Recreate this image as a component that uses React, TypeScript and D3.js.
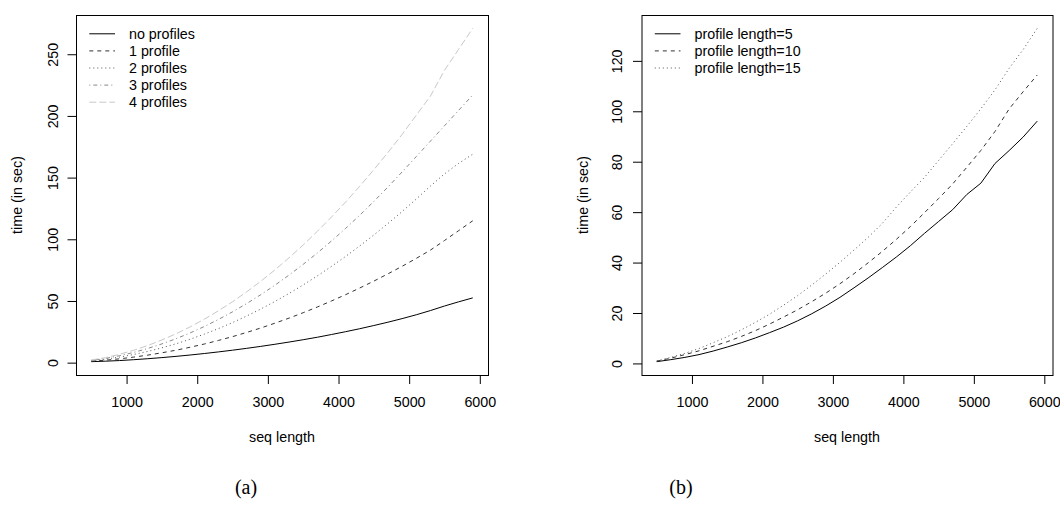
import React, { useEffect, useRef } from "react";
import * as d3 from "d3";

const seqLength = [
  500, 700, 900, 1100, 1300, 1500, 1700, 1900, 2100, 2300, 2500, 2700, 2900, 3100,
  3300, 3500, 3700, 3900, 4100, 4300, 4500, 4700, 4900, 5100, 5300, 5500, 5700, 5900,
];

// panel (a): number of profiles
const noProfiles = [
  0.8, 1.2, 1.7, 2.4, 3.2, 4.1, 5.1, 6.2, 7.4, 8.7, 10.1, 11.6, 13.2, 14.9,
  16.7, 18.6, 20.6, 22.8, 25.1, 27.5, 30.1, 32.8, 35.7, 38.8, 42.2, 45.9, 49.3, 52.5,
];
const oneProfile = [
  1.2, 2.0, 3.1, 4.5, 6.1, 8.0, 10.1, 12.5, 15.1, 18.0, 21.1, 24.5, 28.1, 32.0,
  36.1, 40.5, 45.1, 50.0, 55.1, 60.5, 66.1, 72.0, 78.1, 84.5, 91.2, 99.0, 107.0, 115.0,
];
const twoProfiles = [
  1.5, 2.8, 4.5, 6.6, 9.1, 12.0, 15.3, 19.0, 23.1, 27.6, 32.5, 37.8, 43.5, 49.6,
  56.1, 63.0, 70.3, 78.0, 86.1, 94.6, 103.5, 112.8, 122.5, 132.6, 143.1, 153.0, 161.5, 169.0,
];
const threeProfiles = [
  1.8, 3.4, 5.6, 8.3, 11.5, 15.2, 19.4, 24.1, 29.3, 35.0, 41.2, 47.9, 55.1, 62.8,
  71.0, 79.7, 88.9, 98.6, 108.8, 119.5, 130.7, 142.4, 154.6, 167.0, 179.5, 192.0, 204.5, 217.0,
];
const fourProfiles = [
  2.2, 4.0, 6.8, 10.0, 13.9, 18.4, 23.4, 29.0, 35.2, 42.0, 49.4, 57.4, 66.0, 75.2,
  85.0, 95.4, 106.4, 118.0, 130.2, 143.0, 156.4, 170.4, 185.0, 200.5, 216.0, 237.0, 254.0, 271.0,
];

// panel (b): profile length
const lenFive = [
  0.7, 1.5, 2.4, 3.5, 4.9, 6.5, 8.2, 10.1, 12.2, 14.4, 16.9, 19.7, 22.8, 26.2,
  30.0, 33.9, 38.0, 42.2, 46.7, 51.6, 56.3, 61.0, 67.0, 71.5, 79.3, 84.4, 89.8, 96.1,
];
const lenTen = [
  0.9, 2.1, 3.5, 5.0, 6.8, 8.6, 10.7, 13.0, 15.6, 18.4, 21.3, 24.5, 27.9, 31.6,
  35.6, 39.9, 44.4, 49.2, 54.3, 59.8, 65.4, 71.2, 77.8, 84.5, 92.0, 100.9, 107.8, 114.4,
];
const lenFifteen = [
  1.0, 2.4, 4.0, 5.9, 8.2, 10.6, 13.3, 16.3, 19.5, 23.1, 26.9, 31.1, 35.5, 40.1,
  45.0, 50.0, 55.5, 62.0, 68.0, 73.8, 80.5, 87.2, 94.0, 101.0, 108.5, 117.0, 124.5, 132.9,
];

const labelsA = ["no profiles", "1 profile", "2 profiles", "3 profiles", "4 profiles"];
const labelsB = ["profile length=5", "profile length=10", "profile length=15"];
const xTicks = [1000, 2000, 3000, 4000, 5000, 6000];
const yTicksA = [0, 50, 100, 150, 200, 250];
const yTicksB = [0, 20, 40, 60, 80, 100, 120];

// R lty 1..5
const lineStyles = [
  { color: "#000", dash: null },
  { color: "#333", dash: "4,4" },
  { color: "#555", dash: "1,3" },
  { color: "#888", dash: "1,3,4,3" },
  { color: "#c8c8c8", dash: "7,3" },
];

const W = 1060;
const H = 505;
const TOP = 15;
const BOTTOM = 375;
const FONT = "'Liberation Sans', Arial, Helvetica, sans-serif";
const FS = 14.3;

// R style axis range: data range extended by 4% each side
const pad = (ext) => {
  const r = ext[1] - ext[0];
  return [ext[0] - 0.04 * r, ext[1] + 0.04 * r];
};

function drawPanel(svg, p) {
  const x = d3.scaleLinear().domain(pad(d3.extent(seqLength))).range([p.left, p.right]);
  const allY = p.series.flatMap((s) => s);
  const y = d3.scaleLinear().domain(pad(d3.extent(allY))).range([BOTTOM, TOP]);

  const g = svg.append("g");

  const line = d3
    .line()
    .x((d, i) => x(seqLength[i]))
    .y((d) => y(d));

  p.series.forEach((s, i) => {
    g.append("path")
      .datum(s)
      .attr("fill", "none")
      .attr("stroke", lineStyles[i].color)
      .attr("stroke-width", 1)
      .attr("stroke-dasharray", lineStyles[i].dash)
      .attr("d", line);
  });

  // box
  g.append("rect")
    .attr("x", p.left + 0.5)
    .attr("y", TOP + 0.5)
    .attr("width", p.right - p.left)
    .attr("height", BOTTOM - TOP)
    .attr("fill", "none")
    .attr("stroke", "#000");

  // x axis
  const xa = g
    .append("g")
    .attr("transform", `translate(0,${BOTTOM + 0.5})`)
    .call(d3.axisBottom(x).tickValues(xTicks).tickSize(8.5).tickPadding(12.5).tickFormat(d3.format("d")));
  xa.select(".domain").remove();
  xa.selectAll("line").attr("stroke", "#000");
  xa.selectAll("text")
    .attr("fill", "#000")
    .style("font-family", FONT)
    .style("font-size", `${FS}px`);

  // y axis, labels parallel to the axis
  const ya = g
    .append("g")
    .attr("transform", `translate(${p.left + 0.5},0)`)
    .call(d3.axisLeft(y).tickValues(p.yTicks).tickSize(9));
  ya.select(".domain").remove();
  ya.selectAll("line").attr("stroke", "#000");
  ya.selectAll("text")
    .attr("x", null)
    .attr("dy", null)
    .attr("text-anchor", "middle")
    .attr("transform", `translate(${-p.yLabelOffset},0) rotate(-90)`)
    .attr("fill", "#000")
    .style("font-family", FONT)
    .style("font-size", `${FS}px`);

  g.append("text")
    .attr("x", (p.left + p.right) / 2)
    .attr("y", 442)
    .attr("text-anchor", "middle")
    .style("font-family", FONT)
    .style("font-size", `${FS}px`)
    .text("seq length");

  g.append("text")
    .attr("transform", `translate(${p.left - 54},${(TOP + BOTTOM) / 2}) rotate(-90)`)
    .attr("text-anchor", "middle")
    .style("font-family", FONT)
    .style("font-size", `${FS}px`)
    .text("time (in sec)");

  // legend
  const lg = g.append("g").attr("transform", `translate(${p.left},33.3)`);
  p.labels.forEach((lab, i) => {
    const yy = i * 17.1;
    lg.append("line")
      .attr("x1", 13.3)
      .attr("x2", 39)
      .attr("y1", yy + 0.5)
      .attr("y2", yy + 0.5)
      .attr("stroke", lineStyles[i].color)
      .attr("stroke-dasharray", lineStyles[i].dash);
    lg.append("text")
      .attr("x", 53)
      .attr("y", yy + 5.2)
      .style("font-family", FONT)
      .style("font-size", `${FS}px`)
      .text(lab);
  });

  svg
    .append("text")
    .attr("x", p.captionX)
    .attr("y", 494)
    .attr("text-anchor", "middle")
    .style("font-family", "'Liberation Serif', 'DejaVu Serif', serif")
    .style("font-size", "20px")
    .text(p.caption);
}

const App = () => {
  const svgRef = useRef(null);

  useEffect(() => {
    const svg = d3.select(svgRef.current);
    svg.selectAll("*").remove();
    svg.append("rect").attr("width", W).attr("height", H).attr("fill", "#fff");

    drawPanel(svg, {
      left: 76,
      right: 488,
      series: [noProfiles, oneProfile, twoProfiles, threeProfiles, fourProfiles],
      labels: labelsA,
      yTicks: yTicksA,
      yLabelOffset: 19,
      caption: "(a)",
      captionX: 246,
    });
    drawPanel(svg, {
      left: 641.5,
      right: 1052.5,
      series: [lenFive, lenTen, lenFifteen],
      labels: labelsB,
      yTicks: yTicksB,
      yLabelOffset: 20.5,
      caption: "(b)",
      captionX: 681,
    });
  }, []);

  return (
    <svg
      ref={svgRef}
      width={W}
      height={H}
      style={{ position: "absolute", left: 0, top: 0, display: "block" }}
    />
  );
};

export default App;
